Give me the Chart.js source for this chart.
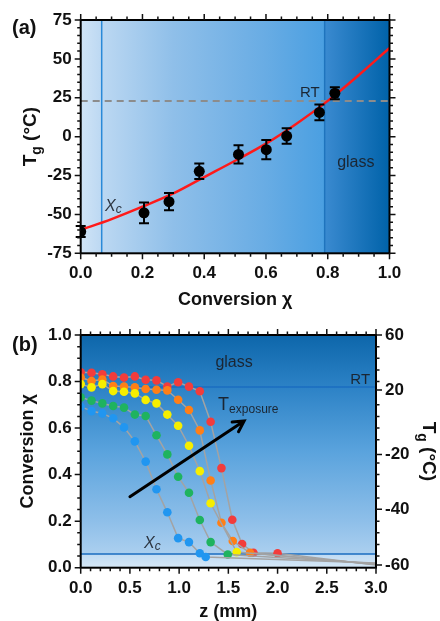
<!DOCTYPE html>
<html>
<head>
<meta charset="utf-8">
<script src="https://cdn.jsdelivr.net/npm/chart.js@4.4.1/dist/chart.umd.min.js"></script>
<style>
  html, body { margin: 0; padding: 0; background: #fff; }
  .panel { position: absolute; left: 0; width: 440px; }
  #wrapA { top: 0; height: 310px; }
  #wrapB { top: 310px; height: 311px; }
</style>
</head>
<body>
<div id="wrapA" class="panel"><canvas id="chartA"></canvas></div>
<div id="wrapB" class="panel"><canvas id="chartB"></canvas></div>
<script>
// ---- panel (a): Tg vs conversion ----
const fitChi = [0, 0.1, 0.2, 0.3, 0.4, 0.5, 0.6, 0.7, 0.8, 0.9, 1.0];
const fitTg  = [-60, -53, -45, -36.5, -26, -15.5, -4.5, 8.5, 23, 39.5, 57];

const measChi = [0.0, 0.205, 0.286, 0.384, 0.511, 0.601, 0.667, 0.773, 0.823];
const measTg  = [-61, -49, -41.8, -22.3, -11.4, -8.4, 0.4, 15.6, 27.9];
const measErr = [3.6, 6.6, 5.5, 5.0, 5.8, 6.2, 5.0, 5.0, 3.9];

const xTicksA = [0, 0.2, 0.4, 0.6, 0.8, 1.0];
const yTicksA = [-75, -50, -25, 0, 25, 50, 75];
const rtTg = 23;
const chiCritA = 0.068;
const chiGlassA = 0.79;

// ---- panel (b): conversion profiles vs depth ----
const redZ     = [0, 0.11, 0.22, 0.33, 0.44, 0.55, 0.66, 0.77, 0.88, 0.99, 1.10, 1.21, 1.32, 1.43, 1.54, 1.64, 1.755, 2.0, 3.0];
const redChi   = [0.840, 0.838, 0.831, 0.822, 0.817, 0.822, 0.808, 0.805, 0.779, 0.797, 0.778, 0.758, 0.627, 0.428, 0.206, 0.102, 0.064, 0.062, 0.012];
const orangeZ  = [0, 0.11, 0.22, 0.33, 0.44, 0.55, 0.66, 0.77, 0.88, 0.99, 1.10, 1.21, 1.32, 1.43, 1.545, 1.72, 3.0];
const orangeChi= [0.817, 0.802, 0.809, 0.781, 0.778, 0.775, 0.768, 0.765, 0.762, 0.722, 0.678, 0.590, 0.375, 0.193, 0.115, 0.064, 0.014];
const yellowZ  = [0, 0.11, 0.22, 0.33, 0.44, 0.55, 0.66, 0.77, 0.88, 0.99, 1.10, 1.21, 1.32, 1.585, 3.0];
const yellowChi= [0.789, 0.775, 0.789, 0.759, 0.756, 0.749, 0.721, 0.706, 0.658, 0.610, 0.524, 0.415, 0.277, 0.067, 0.015];
const greenZ   = [0, 0.11, 0.22, 0.33, 0.44, 0.55, 0.66, 0.77, 0.88, 0.99, 1.10, 1.21, 1.32, 1.494, 3.0];
const greenChi = [0.732, 0.718, 0.706, 0.695, 0.688, 0.658, 0.652, 0.569, 0.487, 0.391, 0.322, 0.205, 0.110, 0.057, 0.018];
const blueZ    = [0, 0.11, 0.22, 0.33, 0.44, 0.55, 0.66, 0.77, 0.88, 0.99, 1.10, 1.21, 1.27, 3.0];
const blueChi  = [0.692, 0.673, 0.663, 0.642, 0.603, 0.543, 0.456, 0.337, 0.238, 0.127, 0.110, 0.062, 0.046, 0.020];

const xTicksB = [0, 0.5, 1.0, 1.5, 2.0, 2.5, 3.0];
const yTicksB = [0, 0.2, 0.4, 0.6, 0.8, 1.0];
const tgTickLabels = [60, 20, -20, -40, -60];
const tgTickChi    = [1.0, 0.764, 0.487, 0.251, 0.012];
const chiRT_B = 0.777;
const chiCritB = 0.059;
const arrowZ   = [0.50, 1.66];
const arrowChi = [0.305, 0.630];

const FONT = '"Liberation Sans", Arial, sans-serif';
const TXT = '#1b2633';

function range(min, max, step) {
    const out = [];
    const n = Math.round((max - min) / step);
    for (let i = 0; i <= n; i++) out.push(+(min + i * step).toFixed(6));
    return out;
}

// tick marks drawn outward on the given sides of the plot frame
function tickMarks(ctx, chart, scaleId, values, majors, sides) {
    const s = chart.scales[scaleId];
    const a = chart.chartArea;
    ctx.save();
    ctx.strokeStyle = '#111';
    ctx.lineWidth = 1.5;
    ctx.beginPath();
    values.forEach(v => {
        const big = majors.some(m => Math.abs(m - v) < 1e-6);
        const len = big ? 6 : 3.5;
        const p = s.getPixelForValue(v);
        sides.forEach(side => {
            if (side === 'left')   { ctx.moveTo(a.left, p);   ctx.lineTo(a.left - len, p); }
            if (side === 'right')  { ctx.moveTo(a.right, p);  ctx.lineTo(a.right + len, p); }
            if (side === 'bottom') { ctx.moveTo(p, a.bottom); ctx.lineTo(p, a.bottom + len); }
            if (side === 'top')    { ctx.moveTo(p, a.top);    ctx.lineTo(p, a.top - len); }
        });
    });
    ctx.stroke();
    ctx.restore();
}

// text with a lowered subscript, optional tail
function subText(ctx, main, sub, tail, x, y, o) {
    ctx.font = o.mainFont;
    const w1 = ctx.measureText(main).width;
    const w3 = tail ? ctx.measureText(tail).width : 0;
    ctx.font = o.subFont;
    const w2 = ctx.measureText(sub).width;
    const x0 = o.align === 'center' ? x - (w1 + w2 + w3) / 2 : x;
    ctx.textAlign = 'left';
    ctx.textBaseline = 'alphabetic';
    ctx.font = o.mainFont;
    ctx.fillText(main, x0, y);
    ctx.font = o.subFont;
    ctx.fillText(sub, x0 + w1, y + o.drop);
    if (tail) {
        ctx.font = o.mainFont;
        ctx.fillText(tail, x0 + w1 + w2, y);
    }
}

function frame(ctx, a) {
    ctx.save();
    ctx.strokeStyle = '#000';
    ctx.lineWidth = 2;
    ctx.strokeRect(a.left, a.top, a.right - a.left, a.bottom - a.top);
    ctx.restore();
}

const tickFont = { family: FONT, size: 17, weight: 'bold' };

// ---------- panel (a) ----------
const panelAPlugin = {
    id: 'panelA',
    beforeDatasetsDraw(chart) {
        const { ctx, chartArea: a, scales: { x, y } } = chart;
        ctx.save();
        const g = ctx.createLinearGradient(a.left, 0, a.right, 0);
        g.addColorStop(0, '#d0e4f6');
        g.addColorStop(chiCritA, '#bcd8f2');
        g.addColorStop(0.3, '#8fbfe9');
        g.addColorStop(0.6, '#68ace4');
        g.addColorStop(chiGlassA, '#4a9fe1');
        g.addColorStop(chiGlassA + 0.001, '#3a8ad0');
        g.addColorStop(1, '#0062a9');
        ctx.fillStyle = g;
        ctx.fillRect(a.left, a.top, a.right - a.left, a.bottom - a.top);

        ctx.lineWidth = 1.5;
        ctx.strokeStyle = '#2a8ad8';
        let px = x.getPixelForValue(chiCritA);
        ctx.beginPath(); ctx.moveTo(px, a.top); ctx.lineTo(px, a.bottom); ctx.stroke();
        ctx.strokeStyle = '#1f74bd';
        px = x.getPixelForValue(chiGlassA);
        ctx.beginPath(); ctx.moveTo(px, a.top); ctx.lineTo(px, a.bottom); ctx.stroke();

        ctx.strokeStyle = '#8c8c8c';
        ctx.lineWidth = 2;
        ctx.setLineDash([7, 5]);
        const py = y.getPixelForValue(rtTg);
        ctx.beginPath(); ctx.moveTo(a.left, py); ctx.lineTo(a.right, py); ctx.stroke();
        ctx.restore();
    },
    afterDatasetsDraw(chart) {
        const { ctx, scales: { x, y } } = chart;
        ctx.save();
        ctx.strokeStyle = '#000';
        ctx.lineWidth = 2;
        measChi.forEach((c, i) => {
            const px = x.getPixelForValue(c);
            const lo = y.getPixelForValue(measTg[i] - measErr[i]);
            const hi = y.getPixelForValue(measTg[i] + measErr[i]);
            ctx.beginPath();
            ctx.moveTo(px, lo); ctx.lineTo(px, hi);
            ctx.moveTo(px - 5, lo); ctx.lineTo(px + 5, lo);
            ctx.moveTo(px - 5, hi); ctx.lineTo(px + 5, hi);
            ctx.stroke();
        });
        ctx.restore();
    },
    afterDraw(chart) {
        const { ctx, chartArea: a, scales: { x, y } } = chart;
        frame(ctx, a);
        tickMarks(ctx, chart, 'x', range(0, 1, 0.05), xTicksA, ['bottom', 'top']);
        tickMarks(ctx, chart, 'y', range(-75, 75, 5), yTicksA, ['left', 'right']);

        ctx.save();
        ctx.fillStyle = '#111';
        ctx.font = 'bold 20px ' + FONT;
        ctx.textAlign = 'left';
        ctx.textBaseline = 'alphabetic';
        ctx.fillText('(a)', 12, 34);

        ctx.font = 'bold 18px ' + FONT;
        ctx.textAlign = 'center';
        ctx.fillText('Conversion \u03c7', (a.left + a.right) / 2, 305);

        ctx.save();
        ctx.translate(36, (a.top + a.bottom) / 2);
        ctx.rotate(-Math.PI / 2);
        subText(ctx, 'T', 'g', ' (\u00b0C)', 0, 0,
            { mainFont: 'bold 19px ' + FONT, subFont: 'bold 14px ' + FONT, drop: 5, align: 'center' });
        ctx.restore();

        ctx.fillStyle = TXT;
        ctx.font = '15px ' + FONT;
        ctx.textAlign = 'center';
        ctx.fillText('RT', x.getPixelForValue(0.742), y.getPixelForValue(25.5));
        ctx.font = '16px ' + FONT;
        ctx.fillText('glass', x.getPixelForValue(0.891), y.getPixelForValue(-19.3));
        ctx.fillStyle = '#2b3440';
        subText(ctx, 'X', 'c', '', x.getPixelForValue(0.079), y.getPixelForValue(-47.5),
            { mainFont: 'italic 16px ' + FONT, subFont: 'italic 12px ' + FONT, drop: 2, align: 'left' });
        ctx.restore();
    }
};

new Chart(document.getElementById('chartA'), {
    type: 'scatter',
    data: {
        datasets: [
            {
                type: 'scatter',
                data: measChi.map((c, i) => ({ x: c, y: measTg[i] })),
                backgroundColor: '#000',
                pointRadius: 5.5,
                pointBorderWidth: 0,
                order: 0
            },
            {
                type: 'line',
                data: fitChi.map((c, i) => ({ x: c, y: fitTg[i] })),
                borderColor: '#ff1a1a',
                borderWidth: 2.5,
                pointRadius: 0,
                fill: false,
                cubicInterpolationMode: 'monotone',
                order: 1
            }
        ]
    },
    options: {
        responsive: true,
        maintainAspectRatio: false,
        animation: false,
        layout: { padding: { top: 20, right: 50.5, left: 0, bottom: 0 } },
        plugins: { legend: { display: false }, tooltip: { enabled: false } },
        scales: {
            x: {
                type: 'linear', min: 0, max: 1,
                grid: { display: false, drawTicks: false },
                border: { display: false },
                afterBuildTicks: s => { s.ticks = xTicksA.map(v => ({ value: v })); },
                afterFit: s => { s.height = 56.7; },
                ticks: { autoSkip: false, maxRotation: 0, padding: 10, color: '#111', font: tickFont,
                         callback: v => v.toFixed(1) }
            },
            y: {
                type: 'linear', min: -75, max: 75,
                grid: { display: false, drawTicks: false },
                border: { display: false },
                afterBuildTicks: s => { s.ticks = yTicksA.map(v => ({ value: v })); },
                afterFit: s => { s.width = 80.7; },
                ticks: { autoSkip: false, padding: 9, color: '#111', font: tickFont }
            }
        }
    },
    plugins: [panelAPlugin]
});

// ---------- panel (b) ----------
const panelBPlugin = {
    id: 'panelB',
    beforeDatasetsDraw(chart) {
        const { ctx, chartArea: a, scales: { y } } = chart;
        ctx.save();
        const g = ctx.createLinearGradient(0, a.top, 0, a.bottom);
        g.addColorStop(0, '#0d66aa');
        g.addColorStop(1 - chiRT_B, '#2c82c6');
        g.addColorStop(0.5, '#5aa3dd');
        g.addColorStop(0.8, '#8ebfe9');
        g.addColorStop(1 - chiCritB, '#abcfef');
        g.addColorStop(1 - chiCritB + 0.002, '#c0dbf3');
        g.addColorStop(1, '#d6e8f7');
        ctx.fillStyle = g;
        ctx.fillRect(a.left, a.top, a.right - a.left, a.bottom - a.top);

        ctx.strokeStyle = '#1a6cc0';
        ctx.lineWidth = 1.5;
        [chiRT_B, chiCritB].forEach(c => {
            const py = y.getPixelForValue(c);
            ctx.beginPath(); ctx.moveTo(a.left, py); ctx.lineTo(a.right, py); ctx.stroke();
        });
        ctx.restore();
    },
    afterDraw(chart) {
        const { ctx, chartArea: a, scales: { x, y } } = chart;
        frame(ctx, a);
        tickMarks(ctx, chart, 'x', range(0, 3, 0.1), xTicksB, ['bottom', 'top']);
        tickMarks(ctx, chart, 'y', range(0, 1, 0.05), yTicksB, ['left']);
        const rightVals = range(0, 1, 0.05).filter(v => tgTickChi.every(m => Math.abs(m - v) > 0.02)).concat(tgTickChi);
        tickMarks(ctx, chart, 'y', rightVals, tgTickChi, ['right']);

        // arrow
        ctx.save();
        const x0 = x.getPixelForValue(arrowZ[0]), y0 = y.getPixelForValue(arrowChi[0]);
        const x1 = x.getPixelForValue(arrowZ[1]), y1 = y.getPixelForValue(arrowChi[1]);
        const ang = Math.atan2(y1 - y0, x1 - x0);
        ctx.strokeStyle = '#000';
        ctx.lineWidth = 3;
        ctx.lineCap = 'round';
        ctx.beginPath();
        ctx.moveTo(x0, y0); ctx.lineTo(x1, y1);
        ctx.moveTo(x1 - 12 * Math.cos(ang - 0.5), y1 - 12 * Math.sin(ang - 0.5));
        ctx.lineTo(x1, y1);
        ctx.lineTo(x1 - 12 * Math.cos(ang + 0.5), y1 - 12 * Math.sin(ang + 0.5));
        ctx.stroke();
        ctx.restore();

        ctx.save();
        ctx.fillStyle = '#111';
        ctx.font = 'bold 20px ' + FONT;
        ctx.textAlign = 'left';
        ctx.textBaseline = 'alphabetic';
        ctx.fillText('(b)', 12, 41);

        ctx.font = 'bold 18px ' + FONT;
        ctx.textAlign = 'center';
        ctx.fillText('z (mm)', (a.left + a.right) / 2, 307);

        ctx.save();
        ctx.translate(33, (a.top + a.bottom) / 2);
        ctx.rotate(-Math.PI / 2);
        ctx.font = 'bold 18px ' + FONT;
        ctx.textAlign = 'center';
        ctx.fillText('Conversion \u03c7', 0, 0);
        ctx.restore();

        ctx.save();
        ctx.translate(423, (a.top + a.bottom) / 2);
        ctx.rotate(Math.PI / 2);
        subText(ctx, 'T', 'g', ' (\u00b0C)', 0, 0,
            { mainFont: 'bold 19px ' + FONT, subFont: 'bold 14px ' + FONT, drop: 5, align: 'center' });
        ctx.restore();

        ctx.fillStyle = TXT;
        ctx.font = '16px ' + FONT;
        ctx.textAlign = 'center';
        ctx.fillText('glass', x.getPixelForValue(1.558), y.getPixelForValue(0.864));
        ctx.font = '15px ' + FONT;
        ctx.textAlign = 'right';
        ctx.fillText('RT', x.getPixelForValue(2.94), y.getPixelForValue(0.789));
        subText(ctx, 'T', 'exposure', '', x.getPixelForValue(1.396), y.getPixelForValue(0.678),
            { mainFont: '18px ' + FONT, subFont: '12px ' + FONT, drop: 3, align: 'left' });
        ctx.fillStyle = '#2b3440';
        subText(ctx, 'X', 'c', '', x.getPixelForValue(0.643), y.getPixelForValue(0.085),
            { mainFont: 'italic 16px ' + FONT, subFont: 'italic 12px ' + FONT, drop: 2, align: 'left' });
        ctx.restore();
    }
};

function profile(zs, chis, color, order) {
    const last = zs.length - 1;
    return {
        data: zs.map((z, i) => ({ x: z, y: chis[i] })),
        showLine: true,
        borderColor: '#a3a3a3',
        borderWidth: 1.5,
        backgroundColor: color,
        pointBackgroundColor: color,
        pointBorderWidth: 0,
        pointRadius: c => (c.dataIndex === last ? 0 : 4.3),
        pointHoverRadius: c => (c.dataIndex === last ? 0 : 4.3),
        order: order
    };
}

new Chart(document.getElementById('chartB'), {
    type: 'scatter',
    data: {
        datasets: [
            profile(redZ, redChi, '#f23c3c', 5),
            profile(orangeZ, orangeChi, '#ff7f17', 4),
            profile(yellowZ, yellowChi, '#f6ee00', 3),
            profile(greenZ, greenChi, '#1fb35f', 2),
            profile(blueZ, blueChi, '#2196f0', 1)
        ]
    },
    options: {
        responsive: true,
        maintainAspectRatio: false,
        animation: false,
        layout: { padding: { top: 25, right: 0, left: 0, bottom: 0 } },
        plugins: { legend: { display: false }, tooltip: { enabled: false } },
        elements: { point: { radius: 4.3 } },
        scales: {
            x: {
                type: 'linear', min: 0, max: 3,
                grid: { display: false, drawTicks: false },
                border: { display: false },
                afterBuildTicks: s => { s.ticks = xTicksB.map(v => ({ value: v })); },
                afterFit: s => { s.height = 53.3; },
                ticks: { autoSkip: false, maxRotation: 0, padding: 10, color: '#111', font: tickFont,
                         callback: v => v.toFixed(1) }
            },
            y: {
                type: 'linear', min: 0, max: 1,
                grid: { display: false, drawTicks: false },
                border: { display: false },
                afterBuildTicks: s => { s.ticks = yTicksB.map(v => ({ value: v })); },
                afterFit: s => { s.width = 80.7; },
                ticks: { autoSkip: false, padding: 9, color: '#111', font: tickFont,
                         callback: v => v.toFixed(1) }
            },
            y2: {
                type: 'linear', position: 'right', min: 0, max: 1,
                grid: { display: false, drawTicks: false },
                border: { display: false },
                afterBuildTicks: s => { s.ticks = tgTickChi.map(v => ({ value: v })); },
                afterFit: s => { s.width = 64; },
                ticks: { autoSkip: false, padding: 9, color: '#111', font: tickFont,
                         callback: (v, i) => String(tgTickLabels[i]) }
            }
        }
    },
    plugins: [panelBPlugin]
});
</script>
</body>
</html>
